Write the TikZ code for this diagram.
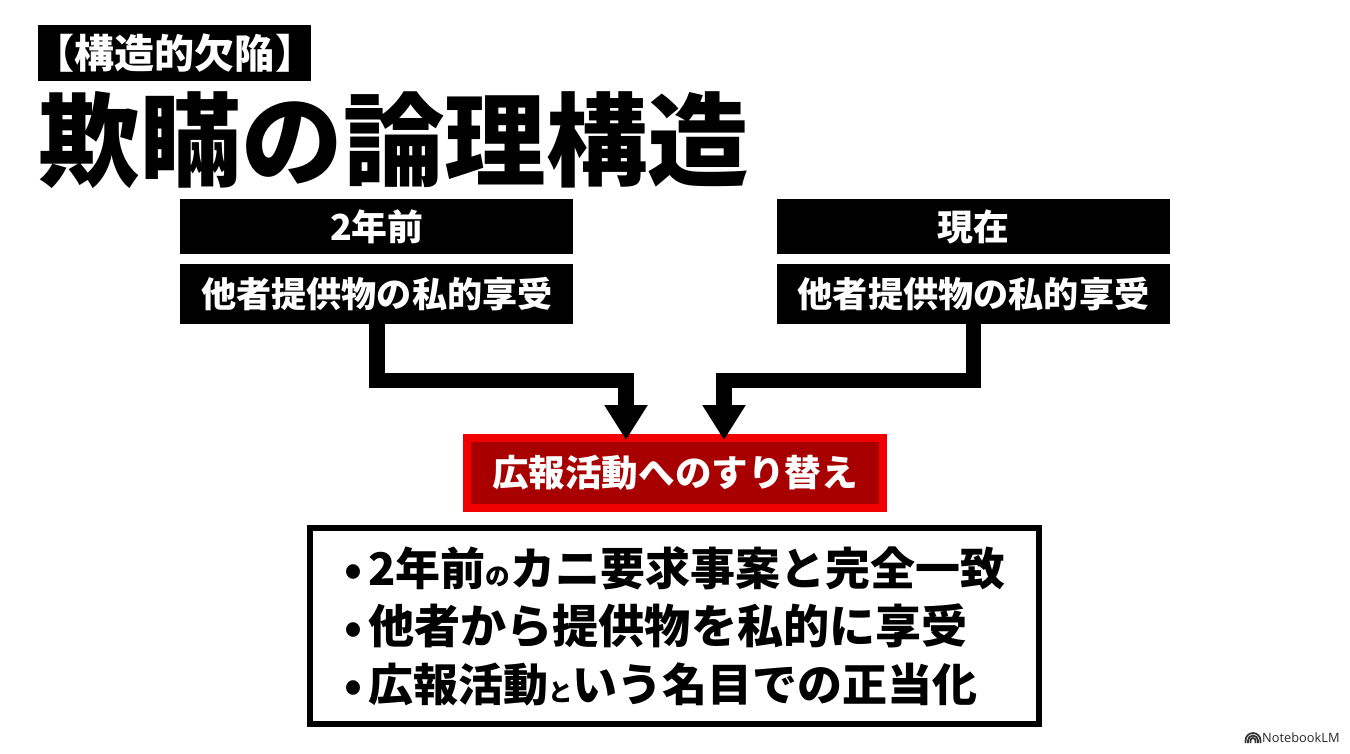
\documentclass[tikz,border=0pt]{standalone}
\usepackage{fontspec}
\usepackage{xcolor}
\usetikzlibrary{arrows.meta, positioning}
\setmainfont{Noto Sans CJK JP Bold}
\newfontfamily\blackfont{Noto Sans CJK JP Black}
\newfontfamily\logofont{Open Sans}
\definecolor{alarmdark}{HTML}{A80000}
\definecolor{alarmred}{HTML}{F00000}
\newcommand{\smallkana}[1]{{\fontsize{14}{14}\selectfont #1}}
\newcommand{\dotitem}{•\hspace{3.5pt}}

\begin{document}
\begin{tikzpicture}[
        node distance = 0.18cm,
        blackbox/.style = {
            rectangle,
            fill=black,
            text=white,
            inner sep=0pt,
            align=center
        },
        headbox/.style = {
            blackbox,
            minimum width=7.86cm,
            minimum height=1.1cm,
            font=\blackfont\fontsize{20.4}{20.4}\selectfont
        },
        claimbox/.style = {
            blackbox,
            minimum width=7.86cm,
            minimum height=1.2cm,
            font=\blackfont\fontsize{20}{20}\selectfont
        },
        arrow/.style = {
            -{Triangle[length=0.7cm,width=0.82cm]},
            line width=0.31cm
        }
    ]
    \useasboundingbox (0,0) rectangle (27,-15.06);

    % Heading
    \node[blackbox, anchor=north west, inner xsep=-0.3cm, minimum width=5.46cm, minimum height=1.12cm,
          font=\blackfont\fontsize{22.8}{22.8}\selectfont] (tag) at (0.76,-0.5) {【構造的欠陥】};
    \node[inner sep=0pt, font=\blackfont\fontsize{57.8}{57.8}\selectfont] (title) at (7.88,-2.8) {欺瞞の論理構造};

    % Nodes
    \node[headbox, anchor=north west] (past) at (3.6,-3.98) {2年前};
    \node[claimbox, below=of past] (pastclaim) {他者提供物の私的享受};
    \node[headbox, right=4.06cm of past] (now) {現在};
    \node[claimbox, below=of now] (nowclaim) {他者提供物の私的享受};

    \node[draw=alarmred, fill=alarmdark, line width=0.16cm, text=white, inner sep=0pt,
          minimum width=8.32cm, minimum height=1.4cm,
          font=\blackfont\fontsize{20.8}{20.8}\selectfont] (swap) at (13.5,-9.46) {広報活動へのすり替え};

    \node[draw=black, fill=white, line width=0.12cm, inner sep=0pt,
          minimum width=14.58cm, minimum height=3.92cm, align=left,
          font=\blackfont\fontsize{25.6}{33}\selectfont] (summary) at (13.49,-12.52)
          {\dotitem 2年前\smallkana{の}カニ要求事案と完全一致\\
           \dotitem{\fontsize{26.25}{33}\selectfont 他者から提供物を私的に享受}\\
           \dotitem 広報活動\smallkana{と}いう名目での正当化};

    % Arrows
    \coordinate (pasttip) at (12.52,-8.8);
    \coordinate (nowtip) at (14.48,-8.8);
    \draw[arrow] (pastclaim.south) -- ++(0,-1.12) -| (pasttip);
    \draw[arrow] (nowclaim.south) -- ++(0,-1.12) -| (nowtip);

    % Logo
    \foreach \r in {0.05,0.1,0.15}
        \draw[line width=0.035cm, black!80] (25.06+\r,-14.86) -- ++(0,0.05) arc (0:180:\r) -- ++(0,-0.05);
    \node[anchor=east, inner sep=0pt, text=black!85,
          font=\logofont\fontsize{7.3}{7.3}\selectfont] (brand) at (26.8,-14.76) {NotebookLM};

\end{tikzpicture}
\end{document}
